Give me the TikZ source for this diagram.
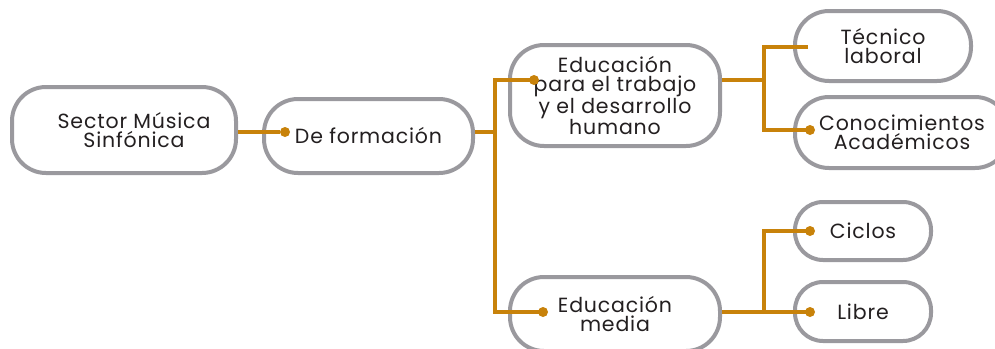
\documentclass[tikz,border=0pt]{standalone}
\usepackage{fontspec}
\setmainfont{Poppins}[LetterSpace=4]
\usetikzlibrary{positioning, calc}
\definecolor{boxgray}{HTML}{9A999E}
\definecolor{linkgold}{HTML}{C8820A}
\definecolor{textdark}{HTML}{231F20}

\begin{document}
\begin{tikzpicture}[
  x=1pt, y=-1pt,
  every node/.style={font=\fontsize{20.5}{19}\selectfont, text=textdark},
  pill/.style={draw=boxgray, line width=4pt, rounded corners=34pt,
               align=center, inner sep=0pt},
  link/.style={draw=linkgold, line width=4pt},
  dot/.style={circle, fill=linkgold, inner sep=0pt, minimum size=10pt}
]
\useasboundingbox (0,0) rectangle (995,348);

% boxes
\node[pill, minimum width=224pt, minimum height=86pt] (sector) at (124,130)
  {\hspace*{20pt}Sector Música\\\hspace*{20pt}Sinfónica};
\node[pill, minimum width=209pt, minimum height=74pt] (formacion) at (368.5,136)
  {De formación};
\node[pill, minimum width=210pt, minimum height=101pt] (trabajo) at (615,95.5)
  {Educación\\para el trabajo\\y el desarrollo\\humano};
\node[pill, minimum width=210pt, minimum height=74pt] (media) at (615,314)
  {Educación\\media};
\node[pill, minimum width=176pt, minimum height=70pt] (tecnico) at (883,46)
  {Técnico\\laboral};
\node[pill, minimum width=214pt, minimum height=71pt] (conoc) at (902,132.5)
  {Conocimientos\\Académicos};
\node[pill, minimum width=136pt, minimum height=58pt, rounded corners=28pt] (ciclos) at (863,231)
  {Ciclos};
\node[pill, minimum width=136pt, minimum height=59pt, rounded corners=28pt] (libre) at (863,311.5)
  {Libre};

% dots
\node[dot] (d-formacion) at (285,132) {};
\node[dot] (d-trabajo) at (534,80) {};
\node[dot] (d-media) at (543,312) {};
\node[dot] (d-conoc) at (810,130) {};
\node[dot] (d-ciclos) at (810,231) {};
\node[dot] (d-libre) at (810,312) {};
\coordinate (e-tecnico) at (808,47);

% branch points
\coordinate (b1) at (495,132);
\coordinate (b2) at (764,80);
\coordinate (b3) at (764,312);

% links
\draw[link] (sector.east |- d-formacion) -- (d-formacion);
\draw[link] (formacion.east |- b1) -- (b1);
\draw[link] (d-trabajo.center) -| (b1) |- (d-media.center);
\draw[link] (trabajo.east |- b2) -- (b2);
\draw[link] (e-tecnico) -| (b2) |- (d-conoc.center);
\draw[link] (media.east |- b3) -- (d-libre.center);
\draw[link] (d-ciclos.center) -| (b3);
\end{tikzpicture}
\end{document}
